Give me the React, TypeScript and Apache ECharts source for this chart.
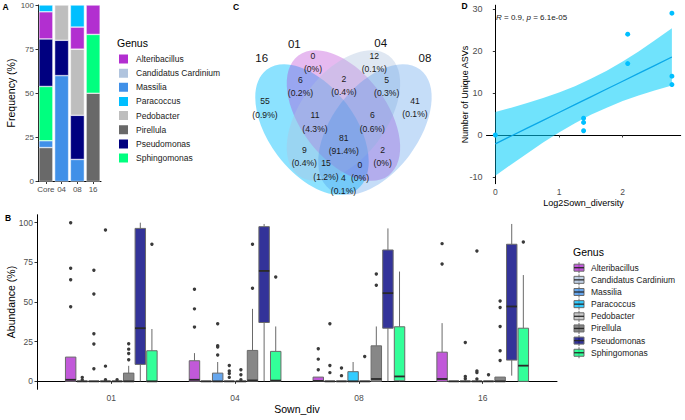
import React, { useEffect, useRef } from "react";
import * as echarts from "echarts";

const FONT = "'Liberation Sans', Arial, Helvetica, sans-serif";

// ---------------- shared ----------------
const genera = ["Alteribacillus", "Candidatus Cardinium", "Massilia", "Paracoccus", "Pedobacter", "Pirellula", "Pseudomonas", "Sphingomonas"];
const genusColors = ["#B22FD0", "#B0C4DE", "#4090E8", "#00BFFF", "#BEBEBE", "#696969", "#000080", "#00FF7F"];

// ---------------- Panel A : frequency (%) ----------------
const freqCategories = ["Core", "04", "08", "16"];
const freqAlteribacillus = [15.38, 0, 12.5, 16.67];
const freqCandidatus = [0, 0, 0, 0];
const freqMassilia = [3.85, 60, 12.5, 0];
const freqParacoccus = [3.85, 0, 12.5, 0];
const freqPedobacter = [0, 20, 37.5, 0];
const freqPirellula = [19.23, 0, 0, 50];
const freqPseudomonas = [26.92, 20, 25, 0];
const freqSphingomonas = [30.77, 0, 0, 33.33];
const freqTicks = [0, 25, 50, 75, 100];
// stacking order, bottom to top
const stackOrder = ["Pirellula", "Massilia", "Sphingomonas", "Pseudomonas", "Pedobacter", "Alteribacillus", "Paracoccus", "Candidatus Cardinium"];

// ---------------- Panel B : abundance boxplots ----------------
const sownGroups = ["01", "04", "08", "16"];
const abundanceTicks = [0, 25, 50, 75, 100];
// per sown group: [lower whisker, Q1, median, Q3, upper whisker]
const boxAlteribacillus = [[0, 0, 1, 15.3, 15.3], [0, 0, 1, 13, 17.8], [0, 0, 0.3, 2.7, 2.7], [0, 0, 1.5, 18.4, 36.7]];
const boxCandidatus = [[0, 0, 0, 0, 0], [0, 0, 0, 0, 0], [0, 0, 0, 0, 0], [0, 0, 0, 0, 0]];
const boxMassilia = [[0, 0, 0, 0, 0], [0, 0, 0, 5.2, 12.2], [0, 0, 0, 0, 0], [0, 0, 0, 0, 0]];
const boxParacoccus = [[0, 0, 0, 0, 0], [0, 0, 0, 0, 0], [0, 0, 0, 6.1, 12.2], [0, 0, 0, 0, 0]];
const boxPedobacter = [[0, 0, 0, 0, 0], [0, 0, 0, 0, 0], [0, 0, 0, 0, 0], [0, 0, 0, 0, 0]];
const boxPirellula = [[0, 0, 0, 5.2, 9.8], [0, 0, 0.6, 19.5, 45.7], [0, 0, 1.5, 22.4, 34.6], [0, 0, 0, 2.7, 2.7]];
const boxPseudomonas = [[0, 10.7, 33.5, 96.4, 100], [0, 37.1, 69.6, 97.5, 99.2], [0, 33.5, 55.6, 82.8, 96.4], [3.6, 13.4, 47.2, 86.4, 99.2]];
const boxSphingomonas = [[0, 0, 0, 19.3, 33], [0, 0, 0.5, 18.9, 34.6], [0, 0.4, 3.1, 34.4, 69.2], [0, 0, 9.9, 33.5, 67]];
// outliers per sown group
const outAlteribacillus = [[100, 71.3, 64, 47], [58, 45.7, 34.2], [20.5, 14, 7.3], [86.8, 74]];
const outCandidatus = [[2.5, 0.8], [], [36.3, 10, 5.5], []];
const outMassilia = [[70, 55, 30, 23.5, 8], [36.3, 22.4, 21.6, 16.6], [8.4, 3.6], [24.5, 3.1, 1.7]];
const outParacoccus = [[95.4, 9.6, 1], [10, 6.5, 5, 2.5], [], [82.2, 6.5, 5.5, 1.5]];
const outPedobacter = [[1], [7.3, 4.2, 1], [15.7], [4.2]];
const outPirellula = [[23.7, 20.3, 17.6, 13.6], [86.4, 58.7], [67.7, 60.6], [50.7, 46.5, 34.6, 19.3, 13.2]];
const outPseudomonas = [[], [], [], []];
const outSphingomonas = [[86.4], [65.8], [], [87.8]];

// ---------------- Panel C : Venn ----------------
const vennSetNames = ["16", "01", "04", "08"];
const vennCounts = [55, 0, 12, 41, 6, 2, 5, 11, 6, 81, 9, 2, 15, 0, 4];
const vennPercents = ["0.9%", "0%", "0.1%", "0.1%", "0.2%", "0.4%", "0.3%", "4.3%", "0.6%", "91.4%", "0.4%", "0%", "1.2%", "0%", "0.1%"];

// ---------------- Panel D : regression ----------------
const log2SownDiversity = [0, 1.386, 1.386, 1.386, 2.079, 2.079, 2.773, 2.773, 2.773];
const uniqueASVs = [0, 4, 3, 1, 24, 17, 29, 14, 12];
const fitX = [0, 0.25, 0.5, 0.75, 1, 1.25, 1.5, 1.75, 2, 2.25, 2.5, 2.773];
const fitY = [-2.1, -0.24, 1.63, 3.49, 5.35, 7.21, 9.08, 10.94, 12.8, 14.66, 16.53, 18.56];
const fitLow = [-9.7, -7.0, -4.4, -1.8, 0.6, 2.8, 4.8, 6.5, 8.1, 9.4, 10.6, 11.8];
const fitHigh = [5.5, 6.5, 7.6, 8.8, 10.1, 11.6, 13.4, 15.3, 17.5, 19.9, 22.5, 25.4];
const divTicks = [0, 1, 2];
const asvTicks = [-10, 0, 10, 20, 30];

// ---------------- helpers ----------------
function rgba(hex: string, a: number) {
  const n = parseInt(hex.slice(1), 16);
  return `rgba(${(n >> 16) & 255},${(n >> 8) & 255},${n & 255},${a})`;
}

const freqByGenus: Record<string, number[]> = {
  Alteribacillus: freqAlteribacillus,
  "Candidatus Cardinium": freqCandidatus,
  Massilia: freqMassilia,
  Paracoccus: freqParacoccus,
  Pedobacter: freqPedobacter,
  Pirellula: freqPirellula,
  Pseudomonas: freqPseudomonas,
  Sphingomonas: freqSphingomonas,
};
const boxesByGenus = [boxAlteribacillus, boxCandidatus, boxMassilia, boxParacoccus, boxPedobacter, boxPirellula, boxPseudomonas, boxSphingomonas];
const outByGenus = [outAlteribacillus, outCandidatus, outMassilia, outParacoccus, outPedobacter, outPirellula, outPseudomonas, outSphingomonas];

const axisLine = { show: true, lineStyle: { color: "#000", width: 1 } };
const axisTickBase = { show: true, length: 2.5, lineStyle: { color: "#333", width: 1 } };
const labelBase = { color: "#4D4D4D", fontSize: 8.5, fontFamily: FONT };

function buildOption() {
  // ---- Panel A series
  const seriesA = stackOrder.map((name) => ({
    type: "bar",
    name,
    stack: "freq",
    xAxisIndex: 0,
    yAxisIndex: 0,
    barWidth: 14,
    silent: true,
    data: freqByGenus[name].map((v) => (v === 0 ? "-" : v)),
    itemStyle: { color: genusColors[genera.indexOf(name)], borderColor: "#fff", borderWidth: 0.5 },
  }));

  // ---- Panel B series
  const dodge = 0.75 / genera.length;
  const halfBox = (dodge * 0.9) / 2;
  const seriesB = genera.map((g, gi) => ({
    type: "custom",
    name: "box-" + g,
    xAxisIndex: 1,
    yAxisIndex: 1,
    silent: true,
    encode: { x: 0, y: [1, 2, 3, 4, 5] },
    data: boxesByGenus[gi].map((s, k) => [k + 1, ...s]),
    renderItem: (params: any, api: any) => {
      const k = params.dataIndex;
      const x = api.value(0) + (gi - 3.5) * dodge;
      const lo = api.coord([x, api.value(1)]);
      const q1 = api.coord([x, api.value(2)]);
      const med = api.coord([x, api.value(3)]);
      const q3 = api.coord([x, api.value(4)]);
      const hi = api.coord([x, api.value(5)]);
      const left = api.coord([x - halfBox, 0])[0];
      const right = api.coord([x + halfBox, 0])[0];
      const lineCol = "#6A6A6A";
      const children: any[] = [];
      children.push({ type: "line", shape: { x1: hi[0], y1: hi[1], x2: q3[0], y2: q3[1] }, style: { stroke: lineCol, lineWidth: 1 } });
      children.push({ type: "line", shape: { x1: q1[0], y1: q1[1], x2: lo[0], y2: lo[1] }, style: { stroke: lineCol, lineWidth: 1 } });
      children.push({
        type: "rect",
        shape: { x: left, y: q3[1], width: right - left, height: q1[1] - q3[1] },
        style: { fill: rgba(genusColors[gi], 0.8), stroke: lineCol, lineWidth: 1 },
      });
      children.push({ type: "line", shape: { x1: left, y1: med[1], x2: right, y2: med[1] }, style: { stroke: "#2A2A2A", lineWidth: 1.8 } });
      for (const o of outByGenus[gi][k]) {
        const p = api.coord([x, o]);
        children.push({ type: "circle", shape: { cx: p[0], cy: p[1], r: 1.7 }, style: { fill: "#3A3A3A" } });
      }
      return { type: "group", children };
    },
  }));

  // ---- Panel D series
  const seriesD: any[] = [
    {
      type: "custom",
      name: "ci-band",
      xAxisIndex: 2,
      yAxisIndex: 2,
      silent: true,
      encode: { x: 0, y: [1, 2] },
      data: fitX.map((x, i) => [x, fitLow[i], fitHigh[i]]),
      renderItem: (params: any, api: any) => {
        if (params.dataIndex !== 0) return null;
        const top = fitX.map((x, i) => api.coord([x, fitHigh[i]]));
        const bot = fitX.map((x, i) => api.coord([x, fitLow[i]])).reverse();
        return { type: "polygon", shape: { points: top.concat(bot) }, style: { fill: "rgba(0,205,250,0.56)" } };
      },
      z: 1,
    },
    {
      type: "line",
      name: "fit",
      xAxisIndex: 2,
      yAxisIndex: 2,
      silent: true,
      showSymbol: false,
      data: fitX.map((x, i) => [x, fitY[i]]),
      lineStyle: { color: "#0AA8E8", width: 1.3 },
      z: 2,
    },
    {
      type: "scatter",
      name: "asv",
      xAxisIndex: 2,
      yAxisIndex: 2,
      silent: true,
      symbolSize: 5,
      data: log2SownDiversity.map((x, i) => [x, uniqueASVs[i]]),
      itemStyle: { color: "#00BFFF", opacity: 1 },
      z: 3,
    },
  ];

  // ---- graphic elements
  const graphic: any[] = [];
  const txt = (text: string, x: number, y: number, extra: any = {}, rot = 0) =>
    graphic.push({
      type: "text",
      x,
      y,
      rotation: rot,
      silent: true,
      style: { text, fill: "#000", fontFamily: FONT, fontSize: 10.5, align: "center", verticalAlign: "middle", ...extra },
    });

  // panel letters
  txt("A", 5.5, 6.5, { fontWeight: "bold", fontSize: 8.5 });
  txt("B", 8, 218, { fontWeight: "bold", fontSize: 8.5 });
  txt("C", 236, 7, { fontWeight: "bold", fontSize: 8.5 });
  txt("D", 464.5, 6, { fontWeight: "bold", fontSize: 8.5 });

  // axis titles
  txt("Frequency (%)", 11, 93, {}, Math.PI / 2);
  txt("Abundance (%)", 10.5, 302, {}, Math.PI / 2);
  txt("Sown_div", 297, 409);
  txt("Number of Unique ASVs", 465, 94.5, { fontSize: 9 }, Math.PI / 2);
  txt("Log2Sown_diversity", 583.6, 202.5, { fontSize: 9 });

  // legend titles
  txt("Genus", 117, 43, { align: "left" });
  txt("Genus", 573, 252, { align: "left" });

  // regression annotation
  graphic.push({
    type: "text",
    x: 496,
    y: 17.7,
    silent: true,
    style: {
      text: "{i|R} = 0.9, {i|p} = 6.1e-05",
      fill: "#1A1A1A",
      fontFamily: FONT,
      fontSize: 8,
      align: "left",
      verticalAlign: "middle",
      rich: { i: { fontStyle: "italic", fontFamily: FONT, fontSize: 8, fill: "#1A1A1A" } },
    },
  });

  // Panel B legend (boxplot keys)
  genera.forEach((g, i) => {
    const cy = 267.7 + 12.15 * i;
    graphic.push({ type: "line", silent: true, shape: { x1: 579, y1: cy - 5.5, x2: 579, y2: cy + 5.5 }, style: { stroke: "#6A6A6A", lineWidth: 1 } });
    graphic.push({ type: "rect", silent: true, shape: { x: 574, y: cy - 3.5, width: 10, height: 7 }, style: { fill: rgba(genusColors[i], 0.8), stroke: "#6A6A6A", lineWidth: 1 } });
    graphic.push({ type: "line", silent: true, shape: { x1: 574, y1: cy, x2: 584, y2: cy }, style: { stroke: "#2A2A2A", lineWidth: 1.3 } });
    txt(g, 591, cy, { align: "left", fontSize: 8.5, fill: "#1A1A1A" });
  });

  // Panel C : Venn ellipses (layout)
  const ellCenters = [[312, 129.5], [343.5, 115.5], [343.5, 115.5], [375, 129.5]];
  const ellRot = [-0.925, -0.925, 0.925, 0.925];
  const ellFill = [rgba("#00BFFF", 0.45), rgba("#B22FD0", 0.33), rgba("#B0C4DE", 0.4), rgba("#4090E8", 0.3)];
  vennSetNames.forEach((_, i) => {
    graphic.push({
      type: "ellipse",
      silent: true,
      x: ellCenters[i][0],
      y: ellCenters[i][1],
      rotation: ellRot[i],
      shape: { cx: 0, cy: 0, rx: 75, ry: 43 },
      style: { fill: ellFill[i] },
    });
  });
  const setLabelPos = [[261.7, 58.3], [294.3, 44], [380.7, 43.3], [425, 58.3]];
  vennSetNames.forEach((s, i) => txt(s, setLabelPos[i][0], setLabelPos[i][1], { fontSize: 11.5, fill: "#111" }));
  const regionPos = [
    [265, 108], [313, 62.3], [374.3, 62.3], [415, 107.7], [300.5, 86.7], [344, 85.3], [386.7, 86.7],
    [315, 122], [372.3, 122], [343.7, 144.5], [304.3, 156.7], [382.7, 156.2], [326, 170], [360, 171.7], [343.5, 184.2],
  ];
  vennCounts.forEach((c, i) =>
    txt(`${c}\n(${vennPercents[i]})`, regionPos[i][0], regionPos[i][1], { fontSize: 8.6, lineHeight: 13.3, fill: "#1A1A1A" })
  );

  return {
    animation: false,
    backgroundColor: "#fff",
    textStyle: { fontFamily: FONT },
    grid: [
      { left: 38, top: 5, width: 63, height: 176.5, outerBoundsMode: "none" },
      { left: 37, top: 214.75, width: 520, height: 174.55, outerBoundsMode: "none" },
      { left: 486.5, top: 5.2, width: 194.2, height: 178.5, outerBoundsMode: "none" },
    ],
    xAxis: [
      {
        type: "category",
        gridIndex: 0,
        data: freqCategories,
        axisLine,
        axisTick: { ...axisTickBase, alignWithLabel: true, interval: 0 },
        axisLabel: { ...labelBase, fontSize: 8, margin: 3.5, interval: 0 },
        splitLine: { show: false },
      },
      {
        type: "value",
        gridIndex: 1,
        min: 0.4,
        max: 4.6,
        axisLine,
        axisTick: { ...axisTickBase, customValues: [1, 2, 3, 4] },
        axisLabel: { ...labelBase, margin: 4.5, customValues: [1, 2, 3, 4], formatter: (v: number) => sownGroups[Math.round(v) - 1] },
        splitLine: { show: false },
      },
      {
        type: "value",
        gridIndex: 2,
        min: -0.1386,
        max: 2.9113,
        axisLine,
        axisTick: { ...axisTickBase, customValues: divTicks },
        axisLabel: { ...labelBase, fontSize: 8.5, margin: 3.5, customValues: divTicks },
        splitLine: { show: false },
      },
    ],
    yAxis: [
      {
        type: "value",
        gridIndex: 0,
        min: freqTicks[0],
        max: freqTicks[freqTicks.length - 1],
        interval: 25,
        axisLine,
        axisTick: axisTickBase,
        axisLabel: { ...labelBase, fontSize: 8, margin: 4 },
        splitLine: { show: false },
      },
      {
        type: "value",
        gridIndex: 1,
        min: -5,
        max: 105,
        axisLine,
        axisTick: { ...axisTickBase, customValues: abundanceTicks },
        axisLabel: { ...labelBase, margin: 4, customValues: abundanceTicks },
        splitLine: { show: false },
      },
      {
        type: "value",
        gridIndex: 2,
        min: -11.6,
        max: 30.9,
        axisLine,
        axisTick: { ...axisTickBase, customValues: asvTicks },
        axisLabel: { ...labelBase, fontSize: 9, margin: 4, customValues: asvTicks },
        splitLine: { show: false },
      },
    ],
    legend: {
      orient: "vertical",
      left: 117,
      top: 52.5,
      padding: 0,
      itemWidth: 11,
      itemHeight: 11,
      itemGap: 1.15,
      icon: "rect",
      selectedMode: false,
      data: genera,
      textStyle: { fontSize: 8.5, color: "#1A1A1A", fontFamily: FONT, padding: [0, 0, 0, 2] },
    },
    graphic,
    series: [...seriesA, ...seriesB, ...seriesD],
  };
}

export default function App() {
  const ref = useRef<HTMLDivElement>(null);
  useEffect(() => {
    const chart = echarts.init(ref.current!, null, { renderer: "svg" });
    chart.setOption(buildOption() as any);
    return () => chart.dispose();
  }, []);
  return (
    <div
      ref={ref}
      style={{ position: "fixed", left: 0, top: 0, width: 685, height: 420, background: "#fff" }}
    />
  );
}
